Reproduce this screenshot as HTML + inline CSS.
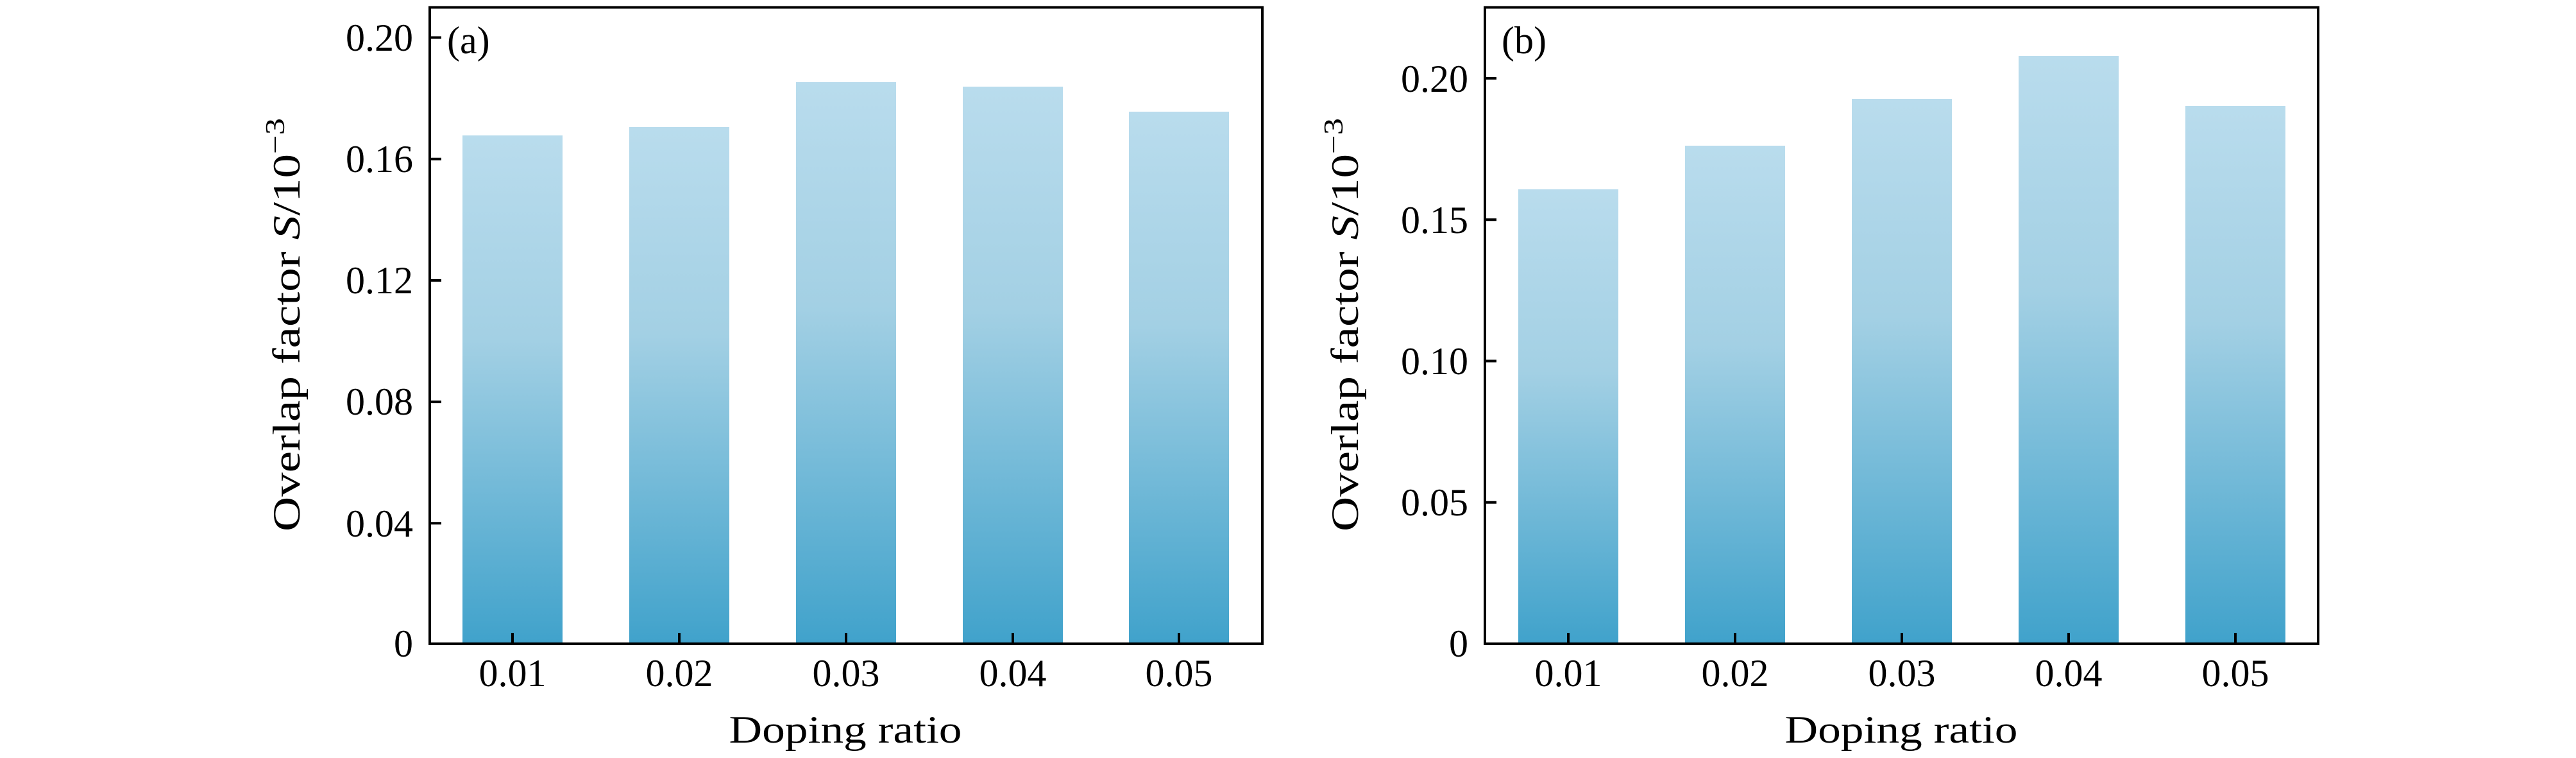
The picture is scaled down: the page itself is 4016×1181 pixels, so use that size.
<!DOCTYPE html>
<html><head><meta charset="utf-8"><style>
html,body{margin:0;padding:0;background:#fff;}
svg{display:block;}
text{font-family:"Liberation Serif",serif;fill:#000;}
</style></head><body>
<svg width="4016" height="1181" viewBox="0 0 4016 1181" xmlns="http://www.w3.org/2000/svg">
<defs>
<linearGradient id="g" x1="0" y1="0" x2="0" y2="1">
<stop offset="0" stop-color="#b9dced"/>
<stop offset="0.4" stop-color="#a3d0e4"/>
<stop offset="1" stop-color="#40a2cb"/>
</linearGradient>
</defs>
<!-- Panel a -->
<g>
<rect x="721" y="211" width="156" height="792" fill="url(#g)"/>
<rect x="981" y="198" width="156" height="805" fill="url(#g)"/>
<rect x="1241" y="128" width="156" height="875" fill="url(#g)"/>
<rect x="1501" y="135" width="156" height="868" fill="url(#g)"/>
<rect x="1760" y="174" width="156" height="829" fill="url(#g)"/>
<rect x="670" y="11.5" width="1298" height="991.5" fill="none" stroke="#000" stroke-width="4"/>
<g stroke="#000" stroke-width="4">
<line x1="670" y1="58.5" x2="688" y2="58.5"/>
<line x1="670" y1="247.7" x2="688" y2="247.7"/>
<line x1="670" y1="436.9" x2="688" y2="436.9"/>
<line x1="670" y1="626.1" x2="688" y2="626.1"/>
<line x1="670" y1="815.3" x2="688" y2="815.3"/>
<line x1="799" y1="1003" x2="799" y2="986"/>
<line x1="1059" y1="1003" x2="1059" y2="986"/>
<line x1="1319" y1="1003" x2="1319" y2="986"/>
<line x1="1579" y1="1003" x2="1579" y2="986"/>
<line x1="1838" y1="1003" x2="1838" y2="986"/>
</g>
<g font-size="60" text-anchor="end">
<text x="644" y="79">0.20</text>
<text x="644" y="268">0.16</text>
<text x="644" y="457">0.12</text>
<text x="644" y="646">0.08</text>
<text x="644" y="836">0.04</text>
<text x="644" y="1023">0</text>
</g>
<g font-size="60" text-anchor="middle">
<text x="799" y="1069">0.01</text>
<text x="1059" y="1069">0.02</text>
<text x="1319" y="1069">0.03</text>
<text x="1579" y="1069">0.04</text>
<text x="1838" y="1069">0.05</text>
<text x="1318" y="1157" textLength="363" lengthAdjust="spacingAndGlyphs">Doping ratio</text>
</g>
<text x="697" y="83" font-size="60">(a)</text>
<text transform="translate(467,828) rotate(-90)" font-size="60" textLength="644" lengthAdjust="spacingAndGlyphs">Overlap factor <tspan font-style="italic">S</tspan>/10<tspan dy="-24" font-size="42">−3</tspan></text>
</g>
<!-- Panel b -->
<g>
<rect x="2367" y="295" width="156" height="708" fill="url(#g)"/>
<rect x="2627" y="227" width="156" height="776" fill="url(#g)"/>
<rect x="2887" y="154" width="156" height="849" fill="url(#g)"/>
<rect x="3147" y="87" width="156" height="916" fill="url(#g)"/>
<rect x="3407" y="165" width="156" height="838" fill="url(#g)"/>
<rect x="2315" y="11.5" width="1299" height="991.5" fill="none" stroke="#000" stroke-width="4"/>
<g stroke="#000" stroke-width="4">
<line x1="2315" y1="122" x2="2333" y2="122"/>
<line x1="2315" y1="342.3" x2="2333" y2="342.3"/>
<line x1="2315" y1="562.5" x2="2333" y2="562.5"/>
<line x1="2315" y1="782.8" x2="2333" y2="782.8"/>
<line x1="2445" y1="1003" x2="2445" y2="986"/>
<line x1="2705" y1="1003" x2="2705" y2="986"/>
<line x1="2965" y1="1003" x2="2965" y2="986"/>
<line x1="3225" y1="1003" x2="3225" y2="986"/>
<line x1="3485" y1="1003" x2="3485" y2="986"/>
</g>
<g font-size="60" text-anchor="end">
<text x="2289" y="143">0.20</text>
<text x="2289" y="363">0.15</text>
<text x="2289" y="583">0.10</text>
<text x="2289" y="803">0.05</text>
<text x="2289" y="1023">0</text>
</g>
<g font-size="60" text-anchor="middle">
<text x="2445" y="1069">0.01</text>
<text x="2705" y="1069">0.02</text>
<text x="2965" y="1069">0.03</text>
<text x="3225" y="1069">0.04</text>
<text x="3485" y="1069">0.05</text>
<text x="2964" y="1157" textLength="363" lengthAdjust="spacingAndGlyphs">Doping ratio</text>
</g>
<text x="2341" y="83" font-size="60">(b)</text>
<text transform="translate(2117,828) rotate(-90)" font-size="60" textLength="644" lengthAdjust="spacingAndGlyphs">Overlap factor <tspan font-style="italic">S</tspan>/10<tspan dy="-24" font-size="42">−3</tspan></text>
</g>
</svg>
</body></html>
